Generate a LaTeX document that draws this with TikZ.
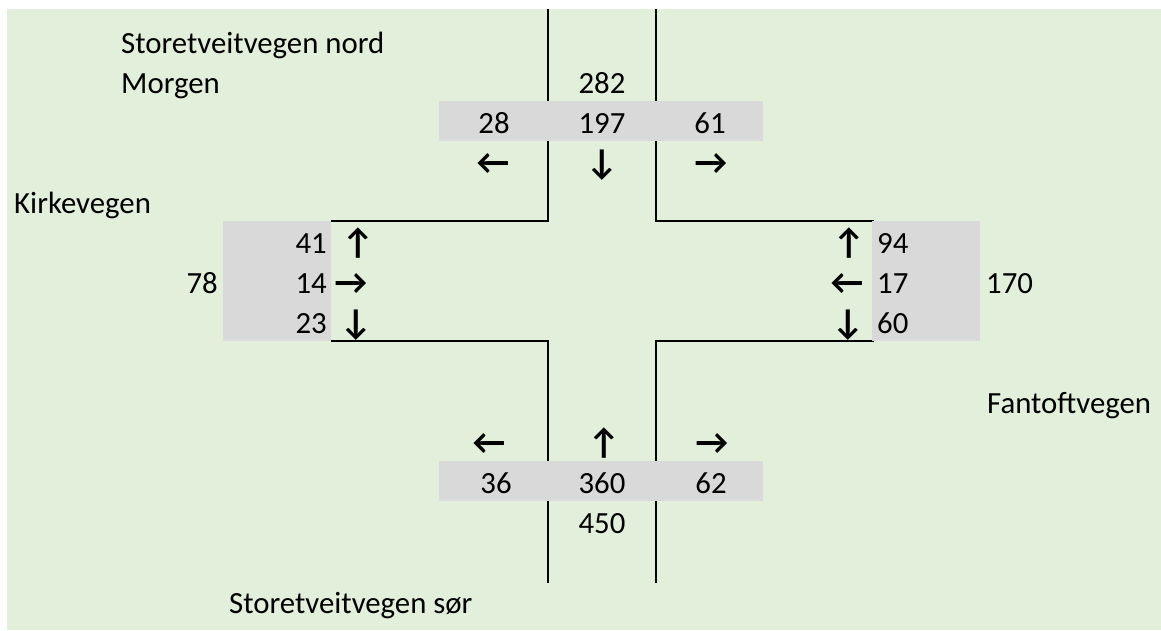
\documentclass[tikz,border=0pt]{standalone}
\usepackage{fontspec}
\setmainfont{Carlito}
\definecolor{bggreen}{HTML}{E2EFDA}
\definecolor{bandgray}{HTML}{D9D9D9}
\begin{document}
\begin{tikzpicture}[x=1pt,y=-1pt,
  txt/.style={inner sep=0pt, font=\fontsize{30.8}{36}\selectfont, text=black},
  arr/.style={txt, font=\fontsize{36}{40}\selectfont\bfseries},
  road/.style={line width=1.6pt, draw=black},
  band/.style={fill=bandgray, draw=none}]
\useasboundingbox (0,0) rectangle (1161,630);
\fill[bggreen] (7,9) rectangle (1161,630);

% road edges of the crossing
\draw[road] (548,9) -- (548,221) -- (331,221);
\draw[road] (656,9) -- (656,221) -- (874,221);
\draw[road] (331,341) -- (548,341) -- (548,583);
\draw[road] (874,341) -- (656,341) -- (656,583);

% shaded count bands
\fill[band] (439,101) rectangle (763,141);
\fill[band] (223,221) rectangle (331,341);
\fill[band] (872,221) rectangle (980,341);
\fill[band] (439,461) rectangle (763,501);

% titles and road names
\node[txt, anchor=base west] (nord) at (121,53) {Storetveitvegen nord};
\node[txt, anchor=base west] (morgen) at (121,93) {Morgen};
\node[txt, anchor=base west] (kirke) at (14,213) {Kirkevegen};
\node[txt, anchor=base west] (fantoft) at (987,413) {Fantoftvegen};
\node[txt, anchor=base west] (sor) at (229,613) {Storetveitvegen sør};

% north approach
\node[txt, anchor=base] (nTot) at (602,93) {282};
\node[txt, anchor=base] (nL) at (494,133) {28};
\node[txt, anchor=base] (nS) at (602,133) {197};
\node[txt, anchor=base] (nR) at (710,133) {61};
\node[arr, anchor=base] (naL) at (493,174) {←};
\node[arr, anchor=base] (naS) at (602,174) {↓};
\node[arr, anchor=base] (naR) at (711,174) {→};

% west approach
\node[txt, anchor=base east] (wU) at (327,253) {41};
\node[txt, anchor=base east] (wS) at (327,293) {14};
\node[txt, anchor=base east] (wD) at (327,333) {23};
\node[txt, anchor=base east] (wTot) at (218,293) {78};
\node[arr, anchor=base] (waU) at (358,254) {↑};
\node[arr, anchor=base] (waS) at (351,294) {→};
\node[arr, anchor=base] (waD) at (356,334) {↓};

% east approach
\node[arr, anchor=base] (eaU) at (849,254) {↑};
\node[arr, anchor=base] (eaS) at (847,294) {←};
\node[arr, anchor=base] (eaD) at (848,334) {↓};
\node[txt, anchor=base west] (eU) at (877,253) {94};
\node[txt, anchor=base west] (eS) at (877,293) {17};
\node[txt, anchor=base west] (eD) at (877,333) {60};
\node[txt, anchor=base west] (eTot) at (986,293) {170};

% south approach
\node[arr, anchor=base] (saL) at (489,454) {←};
\node[arr, anchor=base] (saS) at (604,454) {↑};
\node[arr, anchor=base] (saR) at (712,454) {→};
\node[txt, anchor=base] (sL) at (496,493) {36};
\node[txt, anchor=base] (sS) at (602,493) {360};
\node[txt, anchor=base] (sR) at (711,493) {62};
\node[txt, anchor=base] (sTot) at (602,533) {450};
\end{tikzpicture}
\end{document}
